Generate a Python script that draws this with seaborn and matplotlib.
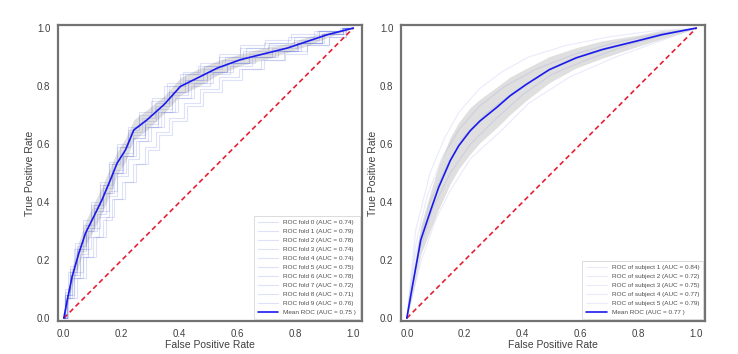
import matplotlib
matplotlib.use("Agg")
import numpy as np
import seaborn as sns
import matplotlib.pyplot as plt

# ---- left panel: 10-fold cross-validation ----
fold_aucs = [0.74, 0.79, 0.78, 0.74, 0.74, 0.75, 0.78, 0.72, 0.71, 0.76]
fold_fpr = [
    [0, 0.02, 0.04, 0.07, 0.10, 0.13, 0.16, 0.19, 0.22, 0.26, 0.30, 0.35, 0.40, 0.46, 0.53, 0.60, 0.68, 0.76, 0.85, 0.93, 1.0],
    [0, 0.01, 0.03, 0.05, 0.08, 0.11, 0.14, 0.17, 0.20, 0.24, 0.28, 0.33, 0.38, 0.44, 0.50, 0.57, 0.65, 0.74, 0.83, 0.92, 1.0],
    [0, 0.01, 0.03, 0.06, 0.09, 0.12, 0.15, 0.18, 0.21, 0.25, 0.29, 0.34, 0.39, 0.45, 0.52, 0.59, 0.67, 0.75, 0.84, 0.92, 1.0],
    [0, 0.02, 0.04, 0.07, 0.10, 0.14, 0.17, 0.20, 0.24, 0.28, 0.32, 0.37, 0.42, 0.48, 0.55, 0.62, 0.70, 0.78, 0.86, 0.94, 1.0],
    [0, 0.02, 0.05, 0.08, 0.11, 0.14, 0.17, 0.20, 0.23, 0.27, 0.31, 0.36, 0.41, 0.47, 0.54, 0.61, 0.69, 0.77, 0.85, 0.93, 1.0],
    [0, 0.01, 0.03, 0.06, 0.09, 0.12, 0.15, 0.18, 0.22, 0.26, 0.30, 0.35, 0.40, 0.46, 0.53, 0.60, 0.68, 0.76, 0.85, 0.93, 1.0],
    [0, 0.01, 0.02, 0.05, 0.08, 0.11, 0.14, 0.17, 0.20, 0.24, 0.28, 0.32, 0.37, 0.43, 0.50, 0.57, 0.65, 0.73, 0.82, 0.91, 1.0],
    [0, 0.02, 0.05, 0.08, 0.12, 0.15, 0.18, 0.22, 0.26, 0.30, 0.34, 0.39, 0.44, 0.50, 0.57, 0.64, 0.72, 0.80, 0.88, 0.95, 1.0],
    [0, 0.03, 0.06, 0.09, 0.13, 0.16, 0.19, 0.23, 0.27, 0.31, 0.35, 0.40, 0.45, 0.51, 0.58, 0.65, 0.73, 0.80, 0.88, 0.95, 1.0],
    [0, 0.01, 0.03, 0.06, 0.09, 0.12, 0.15, 0.19, 0.22, 0.26, 0.30, 0.34, 0.39, 0.45, 0.51, 0.58, 0.66, 0.75, 0.84, 0.92, 1.0],
]
fold_tpr = [
    [0, 0.08, 0.15, 0.22, 0.30, 0.36, 0.43, 0.50, 0.56, 0.62, 0.66, 0.71, 0.77, 0.81, 0.85, 0.88, 0.90, 0.92, 0.95, 0.98, 1.0],
    [0, 0.10, 0.18, 0.26, 0.34, 0.40, 0.47, 0.54, 0.60, 0.66, 0.71, 0.76, 0.81, 0.85, 0.88, 0.91, 0.94, 0.96, 0.98, 0.99, 1.0],
    [0, 0.09, 0.17, 0.25, 0.32, 0.39, 0.46, 0.53, 0.59, 0.64, 0.69, 0.74, 0.80, 0.84, 0.87, 0.90, 0.93, 0.95, 0.97, 0.99, 1.0],
    [0, 0.07, 0.14, 0.21, 0.28, 0.35, 0.42, 0.49, 0.55, 0.61, 0.66, 0.71, 0.76, 0.81, 0.85, 0.88, 0.90, 0.92, 0.95, 0.98, 1.0],
    [0, 0.08, 0.16, 0.24, 0.31, 0.37, 0.44, 0.50, 0.56, 0.61, 0.66, 0.71, 0.76, 0.80, 0.84, 0.87, 0.90, 0.92, 0.95, 0.98, 1.0],
    [0, 0.07, 0.15, 0.23, 0.30, 0.37, 0.43, 0.50, 0.56, 0.62, 0.67, 0.72, 0.78, 0.82, 0.85, 0.88, 0.91, 0.93, 0.95, 0.98, 1.0],
    [0, 0.08, 0.16, 0.24, 0.32, 0.39, 0.46, 0.53, 0.59, 0.65, 0.70, 0.75, 0.80, 0.84, 0.87, 0.90, 0.93, 0.95, 0.97, 0.99, 1.0],
    [0, 0.07, 0.14, 0.21, 0.28, 0.34, 0.41, 0.47, 0.53, 0.59, 0.64, 0.69, 0.74, 0.79, 0.83, 0.86, 0.89, 0.92, 0.94, 0.97, 1.0],
    [0, 0.07, 0.14, 0.21, 0.28, 0.35, 0.41, 0.47, 0.53, 0.58, 0.63, 0.68, 0.73, 0.78, 0.82, 0.86, 0.89, 0.91, 0.94, 0.97, 1.0],
    [0, 0.08, 0.16, 0.24, 0.31, 0.38, 0.45, 0.51, 0.57, 0.63, 0.68, 0.73, 0.78, 0.82, 0.86, 0.89, 0.92, 0.94, 0.96, 0.99, 1.0],
]
mean_fpr_l = [0, 0.012, 0.029, 0.052, 0.075, 0.104, 0.132, 0.161, 0.184, 0.213, 0.242,
              0.288, 0.346, 0.403, 0.472, 0.53, 0.61, 0.703, 0.772, 0.841, 0.91, 1.0]
mean_tpr_l = [0, 0.063, 0.144, 0.224, 0.293, 0.351, 0.408, 0.477, 0.534, 0.58, 0.649,
              0.684, 0.736, 0.799, 0.833, 0.862, 0.891, 0.914, 0.931, 0.954, 0.977, 1.0]
std_tpr_l = [0, 0.02, 0.03, 0.04, 0.04, 0.045, 0.045, 0.045, 0.04, 0.04, 0.035,
             0.035, 0.03, 0.03, 0.03, 0.025, 0.02, 0.02, 0.015, 0.015, 0.01, 0]
mean_auc_l = 0.75

# ---- right panel: per subject ----
subj_aucs = [0.84, 0.72, 0.75, 0.77, 0.79]
subj_fpr = [
    [0, 0.03, 0.08, 0.13, 0.18, 0.25, 0.33, 0.42, 0.55, 0.70, 0.85, 1.0],
    [0, 0.05, 0.10, 0.15, 0.22, 0.33, 0.42, 0.56, 0.72, 0.86, 1.0],
    [0, 0.04, 0.09, 0.15, 0.22, 0.30, 0.40, 0.50, 0.62, 0.76, 0.90, 1.0],
    [0, 0.03, 0.08, 0.14, 0.20, 0.28, 0.37, 0.48, 0.60, 0.74, 0.88, 1.0],
    [0, 0.03, 0.07, 0.12, 0.18, 0.25, 0.34, 0.45, 0.58, 0.72, 0.87, 1.0],
]
subj_tpr = [
    [0, 0.30, 0.50, 0.62, 0.71, 0.79, 0.85, 0.90, 0.94, 0.97, 0.99, 1.0],
    [0, 0.20, 0.34, 0.44, 0.55, 0.65, 0.74, 0.83, 0.90, 0.95, 1.0],
    [0, 0.22, 0.38, 0.50, 0.60, 0.68, 0.77, 0.84, 0.89, 0.94, 0.98, 1.0],
    [0, 0.22, 0.40, 0.53, 0.63, 0.71, 0.78, 0.85, 0.90, 0.94, 0.98, 1.0],
    [0, 0.25, 0.42, 0.55, 0.65, 0.73, 0.80, 0.86, 0.91, 0.95, 0.98, 1.0],
]
mean_fpr_r = [0, 0.019, 0.048, 0.082, 0.11, 0.15, 0.179, 0.219, 0.253, 0.31, 0.356,
              0.413, 0.493, 0.584, 0.675, 0.789, 0.88, 1.0]
mean_tpr_r = [0, 0.109, 0.269, 0.371, 0.451, 0.543, 0.594, 0.646, 0.68, 0.726, 0.766,
              0.806, 0.857, 0.897, 0.926, 0.954, 0.977, 1.0]
std_tpr_r = [0, 0.03, 0.05, 0.065, 0.075, 0.08, 0.08, 0.08, 0.075, 0.07, 0.065,
             0.055, 0.045, 0.035, 0.03, 0.02, 0.015, 0]
mean_auc_r = 0.77


sns.set_style("white", {"axes.edgecolor": "0.45"})
plt.rcParams["font.family"] = ["Liberation Sans", "DejaVu Sans"]

fig = plt.figure(figsize=(7.38, 3.54), dpi=100)
ax_l = fig.add_axes([0.0786, 0.093, 0.412, 0.836])
ax_r = fig.add_axes([0.5434, 0.093, 0.412, 0.836])


def draw_panel(ax, xs, ys, labels, step, line_alpha, mean_fpr, mean_tpr, std_tpr, mean_auc):
    for x, y, lab in zip(xs, ys, labels):
        ax.plot(x, y, color="#4a5cd8", alpha=line_alpha, lw=0.8, label=lab,
                drawstyle="steps-mid" if step else "default")
    ax.plot([0, 1], [0, 1], linestyle=(0, (3, 2)), lw=1.2, color="#e52035")
    m = np.array(mean_tpr)
    s = np.array(std_tpr)
    ax.fill_between(mean_fpr, np.maximum(m - s, 0), np.minimum(m + s, 1),
                    color="grey", alpha=0.25, lw=0)
    sns.lineplot(x=mean_fpr, y=mean_tpr, ax=ax, color="#1a1aee", lw=1.2,
                 sort=False, estimator=None,
                 label="Mean ROC (AUC = %0.2f )" % mean_auc)
    ax.set_xlim(-0.02, 1.03)
    ax.set_ylim(-0.01, 1.01)
    ax.set_xticks([0, 0.2, 0.4, 0.6, 0.8, 1.0])
    ax.set_yticks([0, 0.2, 0.4, 0.6, 0.8, 1.0])
    ax.tick_params(labelsize=7, colors="0.25", pad=2)
    ax.set_xlabel("False Positive Rate", fontsize=7.5, color="0.25", labelpad=1)
    ax.set_ylabel("True Positive Rate", fontsize=7.5, color="0.25", labelpad=1.5)
    for sp in ax.spines.values():
        sp.set_linewidth(1.6)
    leg = ax.legend(loc="lower right", fontsize=4.6, frameon=True,
                    borderpad=0.6, labelspacing=0.55, handlelength=3.2,
                    fancybox=False, borderaxespad=0.3)
    leg.get_frame().set_edgecolor("0.8")
    leg.get_frame().set_linewidth(0.6)
    for t in leg.get_texts():
        t.set_color("0.3")


draw_panel(ax_l, fold_fpr, fold_tpr,
           ["ROC fold %d (AUC = %0.2f)" % (i, a) for i, a in enumerate(fold_aucs)],
           True, 0.18, mean_fpr_l, mean_tpr_l, std_tpr_l, mean_auc_l)
draw_panel(ax_r, subj_fpr, subj_tpr,
           ["ROC of subject %d (AUC = %0.2f)" % (i + 1, a) for i, a in enumerate(subj_aucs)],
           False, 0.12, mean_fpr_r, mean_tpr_r, std_tpr_r, mean_auc_r)

fig.savefig("out.png", dpi=100)
